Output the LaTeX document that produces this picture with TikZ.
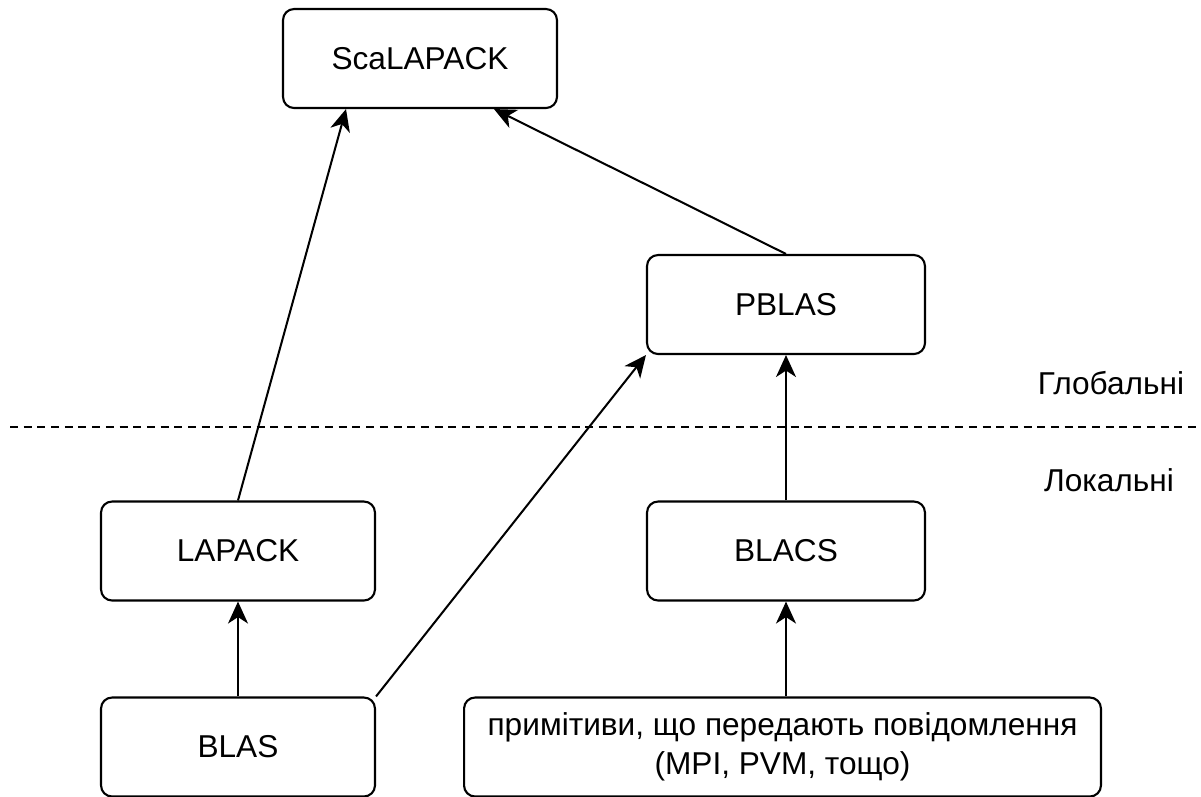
\documentclass[tikz,border=0pt]{standalone}
\usepackage{fontspec}
\setmainfont{Liberation Sans}
\usepackage{tikz}
\usetikzlibrary{arrows.meta}

\begin{document}
\begin{tikzpicture}[x=0.02cm,y=-0.02cm,
	>={Stealth[length=4.4mm,width=4mm,inset=1.3mm]},
	every path/.style={line width=1.15pt},
	box/.style={draw,line width=1.2pt,rounded corners=2.2mm,inner sep=0pt,
		minimum width=5.48cm,minimum height=1.98cm,align=center,
		font=\fontsize{18}{22}\selectfont},
	lbl/.style={font=\fontsize{18}{22}\selectfont}]
	\useasboundingbox (0,0) rectangle (1201,796);
	\node[box] at (420,58.5) (scalapack) {ScaLAPACK};
	\node[box,minimum width=5.56cm] at (786,304.5) (pblas) {PBLAS};
	\node[box] at (238,551) (lapack) {LAPACK};
	\node[box,minimum width=5.56cm] at (786,551) (blacs) {BLACS};
	\node[box] at (238,747) (blas) {BLAS};
	\node[box,minimum width=12.74cm] at (782.5,747) (prim) {примітиви, що передають повідомлення\\(MPI, PVM, тощо)};
	\node[lbl] at (1111,383) (glob) {Глобальні};
	\node[lbl] at (1109,480) (loc) {Локальні};
	% global / local border
	\draw [dash pattern=on 1.6mm off 1.14mm] (10,427) -- (1201,427);
	\draw [->] (lapack.north) -- ([xshift=-14.8mm]scalapack.south);
	\draw [->] (pblas.north) -- ([xshift=14.8mm]scalapack.south);
	\draw [->] (blas.north east) -- (pblas.south west);
	\draw [->] (blas) -- (lapack);
	\draw [->] (blacs) -- (pblas);
	\draw [->] (prim.north -| blacs) -- (blacs);
\end{tikzpicture}
\end{document}
